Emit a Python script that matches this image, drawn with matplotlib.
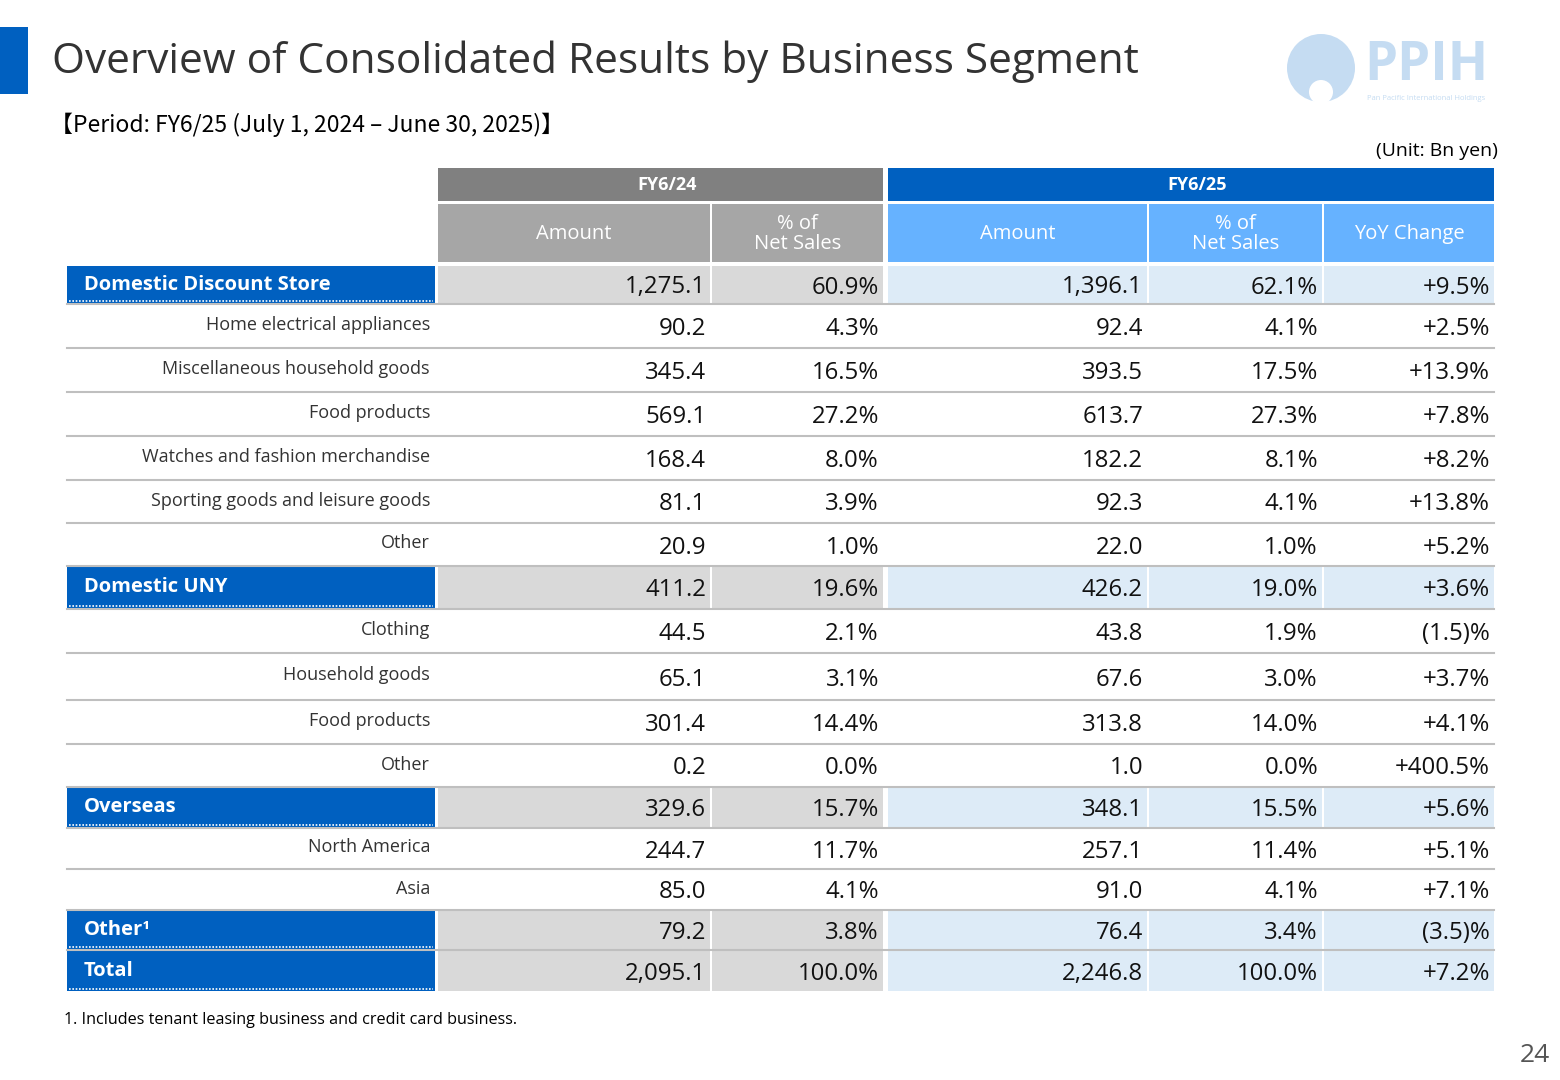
import matplotlib.pyplot as plt
from matplotlib.patches import Rectangle, Circle

plt.rcParams['font.family'] = ['Open Sans', 'DejaVu Sans']

# data
labels = ["Domestic Discount Store", "Home electrical appliances", "Miscellaneous household goods",
          "Food products", "Watches and fashion merchandise", "Sporting goods and leisure goods",
          "Other", "Domestic UNY", "Clothing", "Household goods", "Food products", "Other",
          "Overseas", "North America", "Asia", "Other¹", "Total"]
is_segment = [1, 0, 0, 0, 0, 0, 0, 1, 0, 0, 0, 0, 1, 0, 0, 1, 1]
amt24 = ["1,275.1", "90.2", "345.4", "569.1", "168.4", "81.1", "20.9", "411.2", "44.5", "65.1",
         "301.4", "0.2", "329.6", "244.7", "85.0", "79.2", "2,095.1"]
pct24 = ["60.9%", "4.3%", "16.5%", "27.2%", "8.0%", "3.9%", "1.0%", "19.6%", "2.1%", "3.1%",
         "14.4%", "0.0%", "15.7%", "11.7%", "4.1%", "3.8%", "100.0%"]
amt25 = ["1,396.1", "92.4", "393.5", "613.7", "182.2", "92.3", "22.0", "426.2", "43.8", "67.6",
         "313.8", "1.0", "348.1", "257.1", "91.0", "76.4", "2,246.8"]
pct25 = ["62.1%", "4.1%", "17.5%", "27.3%", "8.1%", "4.1%", "1.0%", "19.0%", "1.9%", "3.0%",
         "14.0%", "0.0%", "15.5%", "11.4%", "4.1%", "3.4%", "100.0%"]
yoy = ["+9.5%", "+2.5%", "+13.9%", "+7.8%", "+8.2%", "+13.8%", "+5.2%", "+3.6%", "(1.5)%",
       "+3.7%", "+4.1%", "+400.5%", "+5.6%", "+5.1%", "+7.1%", "(3.5)%", "+7.2%"]

# layout (pixels)
row_edges = [265, 304, 348, 392, 436, 480, 523, 566, 609, 653, 700, 744, 787, 828, 869, 910, 950, 992]
cols = [(438, 710), (712, 883), (888, 1147), (1149, 1322), (1324, 1494)]
lab_x = (67, 435)

BLUE = "#0060c0"
fig = plt.figure(figsize=(15.6, 10.8), dpi=100)
ax = fig.add_axes([0, 0, 1, 1])
ax.set_xlim(0, 1560)
ax.set_ylim(1080, 0)
ax.axis('off')

def rect(x0, y0, x1, y1, c):
    ax.add_patch(Rectangle((x0, y0), x1 - x0, y1 - y0, color=c, lw=0))

# title
rect(0, 27, 28, 94, BLUE)
ax.text(52, 62, "Overview of Consolidated Results by Business Segment", fontsize=30.5,
        color="#333333", va='center')
ax.text(50, 125, "【Period: FY6/25 (July 1, 2024 – June 30, 2025)】", fontsize=16.5,
        va='center', family=['Noto Sans CJK JP', 'DejaVu Sans'])
ax.text(1498, 151, "(Unit: Bn yen)", fontsize=14, ha='right', va='center')

# logo
ax.add_patch(Circle((1321, 68), 34, color="#c5dcf2", lw=0))
ax.add_patch(Circle((1321, 92), 12, color="white", lw=0))
ax.text(1364, 66, "PPIH", fontsize=38, color="#c5dcf2", fontweight='bold', va='center')
ax.text(1367, 98, "Pan Pacific International Holdings", fontsize=5.5, color="#c5dcf2", va='center')

# headers
rect(438, 168, 883, 201, "#808080")
rect(888, 168, 1494, 201, BLUE)
ax.text(667, 185, "FY6/24", color='white', fontsize=13, fontweight='bold', ha='center', va='center')
ax.text(1197, 185, "FY6/25", color='white', fontsize=13, fontweight='bold', ha='center', va='center')
heads = ["Amount", "% of\nNet Sales", "Amount", "% of\nNet Sales", "YoY Change"]
for i, (x0, x1) in enumerate(cols):
    rect(x0, 204, x1, 262, "#a6a6a6" if i < 2 else "#66b2ff")
    ax.text((x0 + x1) / 2, 234, heads[i], color='white', fontsize=14.5, ha='center', va='center',
            linespacing=0.95)

# body
for r, lab in enumerate(labels):
    y0, y1 = row_edges[r], row_edges[r + 1]
    yc = (y0 + y1) / 2
    vals = [amt24[r], pct24[r], amt25[r], pct25[r], yoy[r]]
    if is_segment[r]:
        rect(lab_x[0], y0 + 1, lab_x[1], y1 - 1, BLUE)
        ax.plot([lab_x[0] + 2, lab_x[1] - 2], [y1 - 3, y1 - 3], color='white', lw=1.2, ls=(0, (1, 1)))
        ax.text(84, yc, lab, color='white', fontsize=14.5, fontweight='bold', va='center')
        for i, (x0, x1) in enumerate(cols):
            rect(x0, y0 + 1, x1, y1 - 1, "#d9d9d9" if i < 2 else "#ddebf7")
    else:
        ax.text(430, yc - 1, lab, fontsize=13, color="#333333", ha='right', va='center')
    if r < len(labels) - 1:
        ax.plot([lab_x[0], 1494], [y1, y1], color="#bfbfbf", lw=1.5)
    for i, (x0, x1) in enumerate(cols):
        ax.text(x1 - 4, yc + 3, vals[i], fontsize=17.3, color="#111111", ha='right', va='center')

ax.text(64, 1020, "1. Includes tenant leasing business and credit card business.", fontsize=11.6, va='center')
ax.text(1550, 1056, "24", fontsize=19, color="#555555", ha='right', va='center')

fig.savefig("out.png", dpi=100)
